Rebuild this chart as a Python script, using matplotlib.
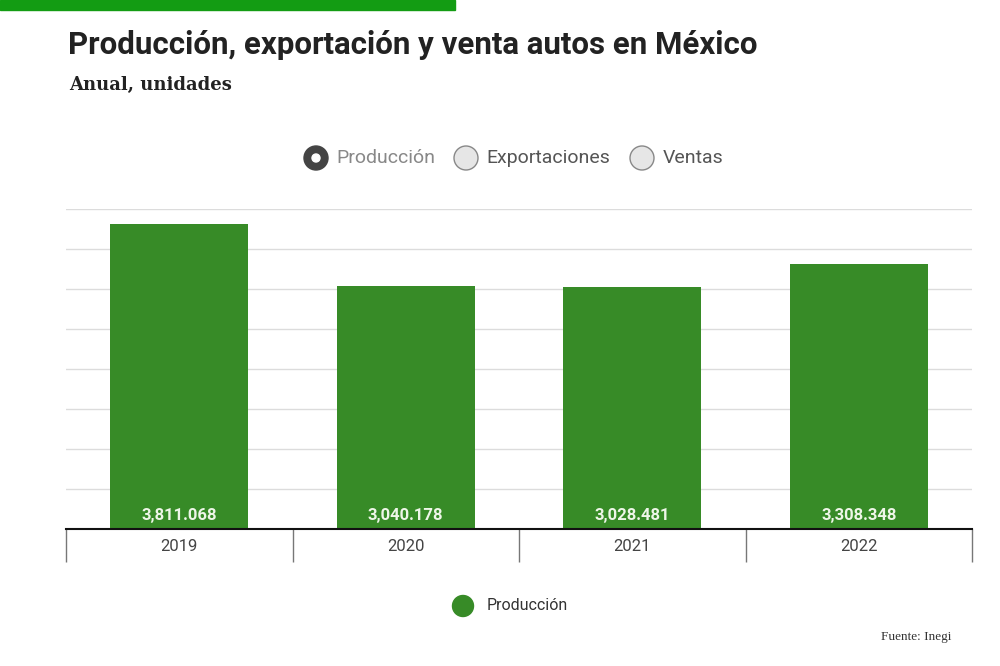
import matplotlib.pyplot as plt
from matplotlib.patches import Ellipse, Rectangle

years = ['2019', '2020', '2021', '2022']
produccion = [3811068, 3040178, 3028481, 3308348]
labels = ['3,811.068', '3,040.178', '3,028.481', '3,308.348']
series_names = ['Producción', 'Exportaciones', 'Ventas']

bar_color = '#378b27'
W, H = 1000, 666


def dot(cx, cy, r, **kw):
    # circle given in pixels, drawn in figure fraction
    fig.patches.append(Ellipse((cx / W, 1 - cy / H), 2 * r / W, 2 * r / H,
                               transform=fig.transFigure, **kw))


fig = plt.figure(figsize=(10, 6.66), dpi=100)
fig.patch.set_facecolor('white')

# green strip at top
fig.patches.append(Rectangle((0, 1 - 10 / H), 0.455, 10 / H,
                             transform=fig.transFigure, color='#139c13', zorder=0))

fig.text(0.068, 1 - 45 / H, 'Producción, exportación y venta autos en México',
         fontsize=22.5, fontweight='bold', family='Roboto', color='#222222', va='center')
fig.text(0.069, 1 - 85 / H, 'Anual, unidades',
         fontsize=13, fontweight='bold', family='DejaVu Serif', color='#222222', va='center')

# radio-button style selector
radio_x = [316, 466, 642]
text_x = [336, 486, 663]
for i, name in enumerate(series_names):
    if i == 0:
        dot(radio_x[i], 158, 12, facecolor='#444444', edgecolor='#444444')
        dot(radio_x[i], 158, 4, facecolor='white', edgecolor='white')
    else:
        dot(radio_x[i], 158, 12, facecolor='#e6e6e6', edgecolor='#888888', lw=1)
    fig.text(text_x[i] / W, 1 - 158 / H, name, fontsize=14, family='Roboto',
             color='#888888' if i == 0 else '#555555', va='center')

ax = fig.add_axes([0.066, 1 - 529 / H, 0.906, 320 / H])
x = list(range(len(years)))
ax.bar(x, produccion, width=0.61, color=bar_color, zorder=2)
for xi, lab in zip(x, labels):
    ax.text(xi, 70000, lab, ha='center', va='bottom', fontsize=12,
            fontweight='bold', family='Roboto', color='#eef6e8', zorder=3)

ax.set_xlim(-0.5, len(years) - 0.5)
ax.set_ylim(0, 4000000)
ax.set_yticks(range(0, 4000001, 500000))
ax.set_yticklabels([])
ax.tick_params(axis='y', length=0)
ax.grid(axis='y', color='#dcdcdc', lw=1, zorder=0)
for side in ['top', 'right', 'left']:
    ax.spines[side].set_visible(False)
ax.spines['bottom'].set_color('#111111')
ax.spines['bottom'].set_linewidth(1.5)

ax.set_xticks([-0.5, 0.5, 1.5, 2.5, 3.5], minor=False)
ax.set_xticklabels([])
ax.tick_params(axis='x', length=24, color='#777777', width=1, direction='out')
ax.set_xticks(x, minor=True)
ax.set_xticklabels(years, minor=True)
ax.tick_params(axis='x', which='minor', length=0, pad=7, labelsize=12,
               labelcolor='#444444')
for t in ax.get_xticklabels(minor=True):
    t.set_family('Roboto')

# bottom legend
dot(463, 606, 10.5, facecolor=bar_color, edgecolor=bar_color)
fig.text(0.487, 1 - 606 / H, 'Producción', fontsize=11.5, family='Roboto',
         color='#333333', va='center')

fig.text(0.951, 1 - 637 / H, 'Fuente: Inegi', fontsize=9.5,
         family='Liberation Serif', color='#333333', ha='right', va='center')

fig.savefig('out.png', dpi=100)
